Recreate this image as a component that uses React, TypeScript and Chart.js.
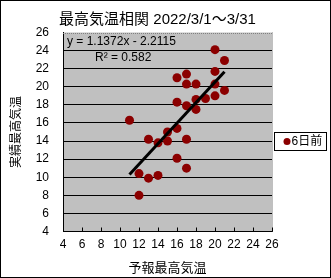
import React, { useEffect, useRef } from "react";
import { Chart, registerables } from "chart.js";

Chart.register(...registerables);

const chartTitle = "最高気温相関 2022/3/1～3/31";
const xTitle = "予報最高気温";
const yTitle = "実績最高気温";
const seriesName = "6日前";
const forecastX = [20, 21, 20, 16, 17, 17, 18, 20, 21, 20, 19, 18, 16, 17, 18, 11, 16, 15, 13, 14, 15, 17, 16, 17, 12, 13, 14, 12];
const actualY = [24.1, 22.9, 21.7, 21.0, 21.4, 20.3, 20.3, 20.3, 19.6, 19.0, 18.7, 18.6, 18.3, 17.9, 17.5, 16.3, 15.4, 15.0, 14.2, 13.8, 14.0, 14.2, 12.1, 11.0, 10.4, 9.9, 10.2, 8.0];
const trendSlope = 1.1372;
const trendIntercept = -2.2115;
const equationLabel = "y = 1.1372x - 2.2115";
const r2Label = "R² = 0.582";
const axisMin = 4;
const axisMax = 26;
const axisStep = 2;

const FONT = "'Liberation Sans', 'Noto Sans CJK JP', sans-serif";
const POINT_COLOR = "#8B0000";

export default function App() {
  const canvasRef = useRef<HTMLCanvasElement | null>(null);

  useEffect(() => {
    const canvas = canvasRef.current;
    if (!canvas) return;
    const points = forecastX.map((x, i) => ({ x, y: actualY[i] }));
    const xMinData = Math.min(...forecastX);
    const xMaxData = Math.max(...forecastX);
    const trend = [
      { x: xMinData, y: trendSlope * xMinData + trendIntercept },
      { x: xMaxData, y: trendSlope * xMaxData + trendIntercept },
    ];

    const decor = {
      id: "decor",
      beforeDraw(chart: any) {
        const { ctx, chartArea } = chart;
        ctx.save();
        ctx.fillStyle = "#C0C0C0";
        ctx.fillRect(chartArea.left, chartArea.top, chartArea.right - chartArea.left, chartArea.bottom - chartArea.top);
        ctx.restore();
      },
      afterDatasetsDraw(chart: any) {
        const { ctx, chartArea, scales } = chart;
        ctx.save();
        // top / right dotted border
        ctx.strokeStyle = "#808080";
        ctx.lineWidth = 1;
        ctx.setLineDash([1, 1]);
        ctx.beginPath();
        ctx.moveTo(chartArea.left, Math.round(chartArea.top) + 0.5);
        ctx.lineTo(chartArea.right, Math.round(chartArea.top) + 0.5);
        ctx.moveTo(Math.round(chartArea.right) + 0.5, chartArea.top);
        ctx.lineTo(Math.round(chartArea.right) + 0.5, chartArea.bottom);
        ctx.stroke();
        ctx.setLineDash([]);
        // inner x tick marks
        ctx.strokeStyle = "#000";
        ctx.beginPath();
        scales.x.ticks.forEach((t: any) => {
          const px = Math.round(scales.x.getPixelForValue(t.value)) + 0.5;
          ctx.moveTo(px, chartArea.bottom);
          ctx.lineTo(px, chartArea.bottom - 4);
        });
        ctx.stroke();
        // equation text
        ctx.fillStyle = "#000";
        ctx.font = "12px " + FONT;
        ctx.textBaseline = "middle";
        ctx.textAlign = "left";
        ctx.fillText(equationLabel, chartArea.left + 4, chartArea.top + 9.5);
        ctx.fillText(r2Label, chartArea.left + 32, chartArea.top + 25.5);
        ctx.restore();
      },
      afterDraw(chart: any) {
        const { ctx } = chart;
        ctx.save();
        // title
        ctx.fillStyle = "#000";
        ctx.font = "15px " + FONT;
        ctx.textBaseline = "middle";
        ctx.textAlign = "center";
        ctx.fillText(chartTitle, 157.5, 20);
        // legend box
        ctx.fillStyle = "#fff";
        ctx.fillRect(274, 132, 52, 18);
        ctx.strokeStyle = "#000";
        ctx.lineWidth = 1;
        ctx.strokeRect(274.5, 132.5, 52, 18);
        ctx.fillStyle = POINT_COLOR;
        ctx.beginPath();
        ctx.arc(287, 141.5, 3.5, 0, Math.PI * 2);
        ctx.fill();
        ctx.fillStyle = "#000";
        ctx.font = "12px " + FONT;
        ctx.textBaseline = "middle";
        ctx.textAlign = "left";
        ctx.fillText(seriesName, 291.5, 142);
        // outer border
        ctx.strokeRect(0.5, 0.5, 330, 277);
        ctx.restore();
      },
    };

    const chart = new Chart(canvas, {
      data: {
        datasets: [
          {
            type: "line",
            label: "trend",
            data: trend,
            borderColor: "#000",
            borderWidth: 3,
            pointRadius: 0,
            fill: false,
            order: 0,
          },
          {
            type: "scatter",
            label: seriesName,
            data: points,
            backgroundColor: POINT_COLOR,
            borderColor: POINT_COLOR,
            pointRadius: 4.5,
            borderWidth: 0,
            order: 1,
          },
        ],
      },
      options: {
        responsive: false,
        animation: false,
        layout: { padding: { left: 0, right: 59, top: 32.5, bottom: 0 } },
        plugins: {
          legend: { display: false },
          tooltip: { enabled: false },
          title: { display: false },
        },
        scales: {
          x: {
            type: "linear",
            min: axisMin,
            max: axisMax,
            ticks: { stepSize: axisStep, color: "#000", font: { family: FONT, size: 12 }, padding: 6, maxRotation: 0 },
            grid: { display: false, drawTicks: false },
            border: { display: true, color: "#000", width: 1 },
            title: {
              display: true,
              text: xTitle,
              color: "#000",
              font: { family: FONT, size: 13 },
              padding: { top: 0, bottom: 2 },
            },
            afterFit(scale: any) {
              scale.height = 46.5;
            },
          },
          y: {
            type: "linear",
            min: axisMin,
            max: axisMax,
            ticks: { stepSize: axisStep, color: "#000", font: { family: FONT, size: 12 }, padding: 14 },
            grid: {
              drawTicks: false,
              color: (c: any) => (c.tick && c.tick.value === axisMax ? "rgba(0,0,0,0)" : "#000"),
              lineWidth: 1,
            },
            border: { display: true, color: "#000", width: 1 },
            title: {
              display: true,
              text: yTitle,
              color: "#000",
              font: { family: FONT, size: 12 },
              padding: { top: 9, bottom: 0 },
            },
            afterFit(scale: any) {
              scale.width = 63;
            },
          },
        },
      },
      plugins: [decor],
    } as any);

    return () => chart.destroy();
  }, []);

  return (
    <div style={{ position: "absolute", left: 0, top: 0, width: 331, height: 278 }}>
      <canvas ref={canvasRef} width={331} height={278} />
    </div>
  );
}
